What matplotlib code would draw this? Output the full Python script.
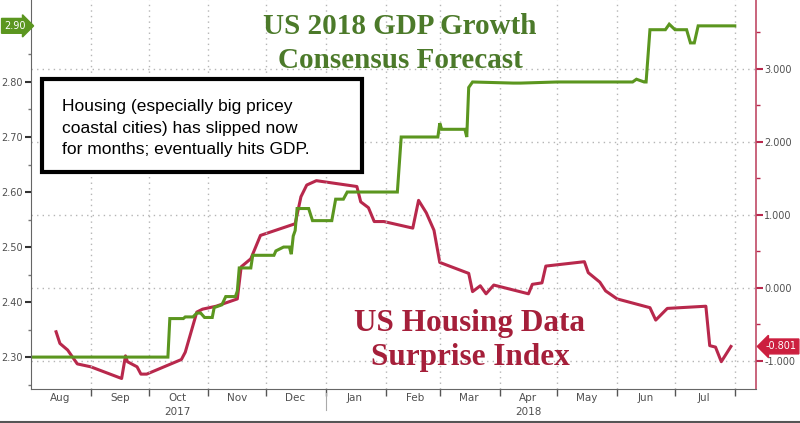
import matplotlib
matplotlib.use('Agg')
import matplotlib.pyplot as plt
import matplotlib.patches as patches
import matplotlib.transforms as mtrans
import pandas as pd

# GDP growth consensus forecast (left axis)
gdp_dates = ['2017-08-01', '2017-10-11', '2017-10-12', '2017-10-19', '2017-10-20', '2017-10-24',
             '2017-10-26', '2017-10-28', '2017-10-30', '2017-11-03', '2017-11-04', '2017-11-08',
             '2017-11-10', '2017-11-15', '2017-11-16', '2017-11-17', '2017-11-23', '2017-11-24',
             '2017-12-05', '2017-12-06', '2017-12-10', '2017-12-13', '2017-12-14', '2017-12-15',
             '2017-12-16', '2017-12-17', '2017-12-23', '2017-12-25', '2018-01-04', '2018-01-06',
             '2018-01-10', '2018-01-12', '2018-02-07', '2018-02-09', '2018-02-28', '2018-03-01',
             '2018-03-02', '2018-03-14', '2018-03-15', '2018-03-16', '2018-03-18', '2018-04-08',
             '2018-04-12', '2018-05-01', '2018-06-09', '2018-06-11', '2018-06-15', '2018-06-16',
             '2018-06-18', '2018-06-26', '2018-06-28', '2018-07-01', '2018-07-07', '2018-07-09',
             '2018-07-11', '2018-07-13', '2018-08-01']
gdp_values = [2.30, 2.30, 2.37, 2.37, 2.373, 2.373,
              2.38, 2.38, 2.372, 2.372, 2.39, 2.395,
              2.41, 2.41, 2.42, 2.462, 2.462, 2.485,
              2.485, 2.493, 2.50, 2.50, 2.487, 2.52,
              2.53, 2.57, 2.57, 2.548, 2.548, 2.587,
              2.587, 2.60, 2.60, 2.70, 2.70, 2.725,
              2.714, 2.714, 2.70, 2.79, 2.80, 2.798,
              2.798, 2.80, 2.80, 2.805, 2.80, 2.80,
              2.895, 2.895, 2.905, 2.895, 2.895, 2.871,
              2.871, 2.902, 2.902]

# US housing data surprise index (right axis)
housing_dates = ['2017-08-14', '2017-08-16', '2017-08-20', '2017-08-25', '2017-09-01', '2017-09-17',
                 '2017-09-19', '2017-09-20', '2017-09-25', '2017-09-27', '2017-09-30', '2017-10-18',
                 '2017-10-20', '2017-10-26', '2017-10-29', '2017-11-05', '2017-11-16', '2017-11-18',
                 '2017-11-23', '2017-11-28', '2017-12-16', '2017-12-19', '2017-12-22', '2017-12-27',
                 '2018-01-17', '2018-01-19', '2018-01-23', '2018-01-26', '2018-01-31', '2018-02-15',
                 '2018-02-18', '2018-02-22', '2018-02-26', '2018-03-01', '2018-03-16', '2018-03-18',
                 '2018-03-22', '2018-03-25', '2018-03-29', '2018-04-16', '2018-04-18', '2018-04-23',
                 '2018-04-25', '2018-05-15', '2018-05-17', '2018-05-23', '2018-05-26', '2018-06-01',
                 '2018-06-18', '2018-06-21', '2018-06-27', '2018-07-17', '2018-07-19', '2018-07-22',
                 '2018-07-25', '2018-07-30']
housing_values = [-0.60, -0.76, -0.85, -1.04, -1.08, -1.24,
                  -0.93, -1.01, -1.08, -1.18, -1.18, -0.98,
                  -0.88, -0.33, -0.29, -0.25, -0.15, 0.29,
                  0.40, 0.72, 0.88, 1.25, 1.41, 1.47,
                  1.39, 1.18, 1.10, 0.91, 0.91, 0.82,
                  1.20, 1.03, 0.79, 0.35, 0.20, -0.05,
                  0.03, -0.08, 0.04, -0.08, 0.05, 0.07,
                  0.30, 0.36, 0.21, 0.08, -0.04, -0.15,
                  -0.27, -0.44, -0.28, -0.25, -0.79, -0.81,
                  -1.01, -0.801]

month_labels = ['Aug', 'Sep', 'Oct', 'Nov', 'Dec', 'Jan', 'Feb', 'Mar', 'Apr', 'May', 'Jun', 'Jul']
left_ticks = [2.30, 2.40, 2.50, 2.60, 2.70, 2.80, 2.90]
right_ticks = [-1.0, 0.0, 1.0, 2.0, 3.0]

green = '#5b961f'
green_dark = '#4c7a2a'
red = '#b8284c'
red_dark = '#a51f3a'
grid_col = '#b5b5b5'
label_col = '#505050'

plt.rcParams['font.family'] = ['DejaVu Sans']

fig = plt.figure(figsize=(8, 4.23), dpi=100)
ax1 = fig.add_axes([31 / 800, 1 - 389 / 423, 725 / 800, 389 / 423])
ax2 = ax1.twinx()
ax1.set_zorder(ax2.get_zorder() + 1)
ax1.patch.set_visible(False)

gd = pd.to_datetime(gdp_dates)
hd = pd.to_datetime(housing_dates)
ax2.plot(hd, housing_values, color=red, lw=2.2, solid_joinstyle='round')
ax1.plot(gd, gdp_values, color=green, lw=2.2, solid_joinstyle='miter')

ax1.set_xlim(pd.Timestamp('2017-08-01'), pd.Timestamp('2018-08-12'))
ax1.set_ylim(2.242, 2.949)
ax2.set_ylim(-1.384, 3.945)

# month boundaries as minor ticks, labels at mid-month
month_starts = pd.date_range('2017-08-01', '2018-08-01', freq='MS')
mids = [m + pd.Timedelta(days=15) for m in month_starts[:-1]]
ax1.set_xticks(month_starts[1:], minor=True)
ax1.set_xticks(mids)
ax1.set_xticklabels(month_labels)
ax1.tick_params(axis='x', which='major', length=0, labelsize=7.5, labelcolor=label_col, pad=3)
ax1.tick_params(axis='x', which='minor', length=5, width=1, color='#555555', direction='out')
ax1.grid(axis='x', which='minor', ls=(0, (1, 3)), color=grid_col, lw=1)

ax1.text(pd.Timestamp('2017-10-16'), -0.058, '2017', transform=ax1.get_xaxis_transform(),
         ha='center', va='center', fontsize=7.5, color=label_col)
ax1.text(pd.Timestamp('2018-04-16'), -0.058, '2018', transform=ax1.get_xaxis_transform(),
         ha='center', va='center', fontsize=7.5, color=label_col)
ax1.plot([pd.Timestamp('2018-01-01')] * 2, [-0.01, -0.055], transform=ax1.get_xaxis_transform(),
         clip_on=False, color='#aaaaaa', lw=0.8)

# left axis
ax1.set_yticks(left_ticks)
ax1.set_yticklabels(['%.2f' % v for v in left_ticks[:-1]] + [''])
ax1.set_yticks([v + 0.05 for v in left_ticks[:-1]] + [2.25], minor=True)
ax1.tick_params(axis='y', which='major', length=4, width=1.5, color='#333333',
                labelsize=7, labelcolor=label_col, pad=2)
ax1.tick_params(axis='y', which='minor', length=2, width=1, color='#777777')

# right axis
ax2.set_yticks(right_ticks)
ax2.set_yticklabels(['%.3f' % v for v in right_ticks])
ax2.set_yticks([-0.5, 0.5, 1.5, 2.5, 3.5], minor=True)
ax2.tick_params(axis='y', which='major', length=5, width=1.5, color=red,
                labelsize=7, labelcolor=label_col, pad=1)
ax2.tick_params(axis='y', which='minor', length=3, width=1, color=red)
ax2.grid(axis='y', which='major', ls=(0, (1, 3)), color=grid_col, lw=1)

for s in ['top', 'right']:
    ax1.spines[s].set_visible(False)
for s in ['top', 'left', 'bottom']:
    ax2.spines[s].set_visible(False)
ax1.spines['left'].set_color('#666666')
ax1.spines['bottom'].set_color('#666666')
ax2.spines['right'].set_color('#c04a66')
ax2.spines['right'].set_linewidth(1.2)

# last value tags
lt = mtrans.blended_transform_factory(fig.transFigure, ax1.transData)
fig.text(4 / 800, gdp_values[-1], '%.2f' % gdp_values[-1], transform=lt, ha='left', va='center',
         fontsize=7, color='white',
         bbox=dict(boxstyle='rarrow,pad=0.25', fc=green, ec=green))
rt = mtrans.blended_transform_factory(ax2.transAxes, ax2.transData)
ax2.text(1.013, housing_values[-1], '%.3f' % housing_values[-1], transform=rt, ha='left', va='center',
         fontsize=7, color='white', clip_on=False,
         bbox=dict(boxstyle='larrow,pad=0.25', fc='#cc1f3f', ec='#cc1f3f'))

# titles
fig.text(400 / 800, 1 - 27 / 423, 'US 2018 GDP Growth', ha='center', va='center', color=green_dark,
         family='Liberation Serif', weight='bold', fontsize=21)
fig.text(400 / 800, 1 - 61 / 423, 'Consensus Forecast', ha='center', va='center', color=green_dark,
         family='Liberation Serif', weight='bold', fontsize=21)
fig.text(470 / 800, 1 - 323 / 423, 'US Housing Data', ha='center', va='center', color=red_dark,
         family='Liberation Serif', weight='bold', fontsize=22.5)
fig.text(470 / 800, 1 - 357 / 423, 'Surprise Index', ha='center', va='center', color=red_dark,
         family='Liberation Serif', weight='bold', fontsize=22.5)

# annotation box
box = patches.Rectangle((42 / 800, 1 - 172 / 423), 320 / 800, 93 / 423, transform=fig.transFigure,
                        fc='white', ec='black', lw=3, zorder=5)
fig.patches.append(box)
fig.text(62 / 800, 1 - 128 / 423,
         'Housing (especially big pricey\ncoastal cities) has slipped now\nfor months; eventually hits GDP.',
         ha='left', va='center', fontsize=12.5, family='Liberation Sans', linespacing=1.55,
         color='black', zorder=6)

fig.add_artist(plt.Line2D([0, 1], [1.5 / 423, 1.5 / 423], color='#555555', lw=1.5))

fig.savefig('out.png', dpi=100, facecolor='white')
